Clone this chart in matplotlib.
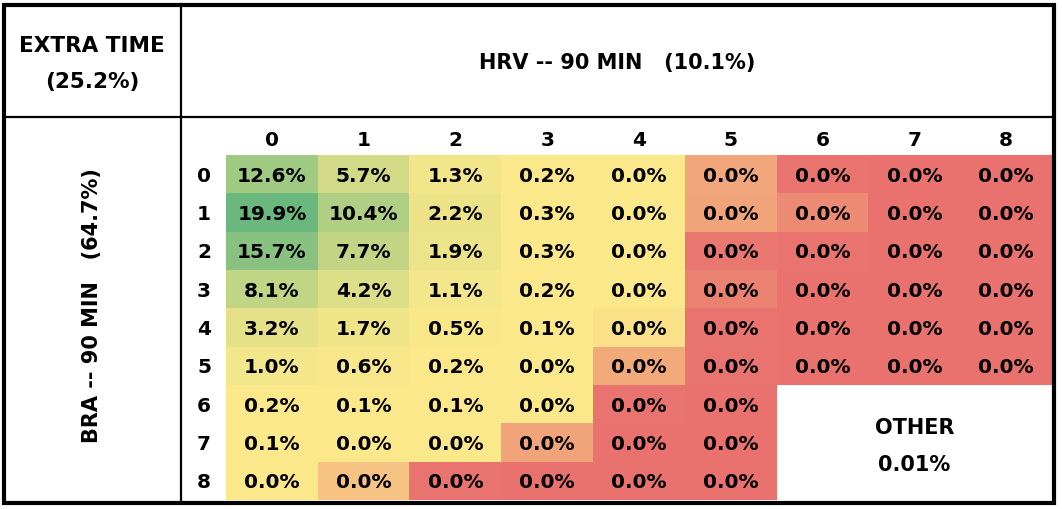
#!/usr/bin/env python
# correct-score grid, BRA vs HRV, coloured like an excel 3-colour scale

import numpy as np
from matplotlib import pyplot as plt
from matplotlib.colors import LinearSegmentedColormap, TwoSlopeNorm
from matplotlib.patches import Rectangle

# data (percent); 0.0% cells keep a rough hidden value so the shading matches
home_goals = ['0', '1', '2', '3', '4', '5', '6', '7', '8']   # BRA (rows)
away_goals = ['0', '1', '2', '3', '4', '5', '6', '7', '8']   # HRV (cols)
nan = np.nan
probs = [
    [12.6, 5.7, 1.3, 0.2, 0.04, 0.017, 0.001, 0.0, 0.0],
    [19.9, 10.4, 2.2, 0.3, 0.04, 0.016, 0.008, 0.0, 0.0],
    [15.7, 7.7, 1.9, 0.3, 0.04, 0.002, 0.001, 0.0, 0.0],
    [8.1, 4.2, 1.1, 0.2, 0.04, 0.005, 0.0, 0.0, 0.0],
    [3.2, 1.7, 0.5, 0.1, 0.035, 0.001, 0.0, 0.0, 0.0],
    [1.0, 0.6, 0.2, 0.04, 0.018, 0.001, 0.0, 0.0, 0.0],
    [0.2, 0.1, 0.1, 0.04, 0.001, 0.0, nan, nan, nan],
    [0.1, 0.04, 0.04, 0.016, 0.0, 0.0, nan, nan, nan],
    [0.04, 0.026, 0.001, 0.0, 0.0, 0.0, nan, nan, nan],
]
top_title = 'HRV -- 90 MIN   (10.1%)'
side_title = 'BRA -- 90 MIN   (64.7%)'
corner_title = 'EXTRA TIME\n(25.2%)'
other_label = 'OTHER'
other_value = '0.01%'

plt.rcParams['font.family'] = ['DejaVu Sans']
plt.rcParams['font.weight'] = 'bold'

W, H = 1062, 510
fig = plt.figure(figsize=(W/100, H/100), dpi=100)
ax = fig.add_axes([0, 0, 1, 1])
ax.set_xlim(0, W)
ax.set_ylim(H, 0)
ax.axis('off')

# grid geometry in pixels
x0, x1 = 226, 1052
y0, y1 = 156, 501
cw = (x1-x0)/len(away_goals)
rh = (y1-y0)/len(home_goals)

z = np.ma.masked_invalid(np.array(probs))
cmap = LinearSegmentedColormap.from_list('xl', ['#E9716E', '#FCE98B', '#6BB87E'])
cmap.set_bad('white')
norm = TwoSlopeNorm(vmin=z.min(), vcenter=np.ma.median(z), vmax=z.max())
ax.imshow(z, cmap=cmap, norm=norm, extent=(x0, x1, y1, y0), aspect='auto',
          interpolation='nearest', zorder=1)

fs = 14.5
for i in range(len(home_goals)):
    for j in range(len(away_goals)):
        v = probs[i][j]
        if np.isnan(v):
            continue
        ax.text(x0+(j+0.5)*cw, y0+(i+0.5)*rh+1, f'{v:.1f}%', ha='center', va='center',
                fontsize=fs, zorder=3)

for j, lab in enumerate(away_goals):
    ax.text(x0+(j+0.5)*cw, 141, lab, ha='center', va='center', fontsize=fs)
for i, lab in enumerate(home_goals):
    ax.text(204, y0+(i+0.5)*rh+1, lab, ha='center', va='center', fontsize=fs)

# OTHER block (rows 6-8, cols 6-8)
ox = x0+7.5*cw
ax.text(ox, 428, other_label, ha='center', va='center', fontsize=15)
ax.text(ox, 465, other_value, ha='center', va='center', fontsize=15)

ax.text(617, 63, top_title, ha='center', va='center', fontsize=15)
ax.text(92, 306, side_title, ha='center', va='center', fontsize=15, rotation=90)
ax.text(92, 64, corner_title, ha='center', va='center', fontsize=15.5,
        linespacing=2.05)

# frame and dividers
ax.plot([181, 181], [5, 504], color='black', lw=1.6, zorder=4)
ax.plot([4, 1054], [118, 118], color='black', lw=1.6, zorder=4)
ax.add_patch(Rectangle((4, 5.5), 1050, 498.5, fill=False, ec='black', lw=3, zorder=5))

fig.savefig('out.png', dpi=100)
